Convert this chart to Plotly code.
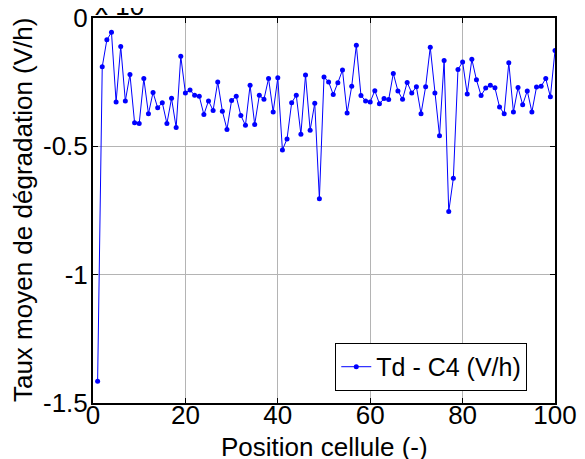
import plotly.graph_objects as go

position = list(range(1, 101))
taux = [
    -1.415, -0.190, -0.085, -0.056, -0.327, -0.111, -0.323, -0.220, -0.408, -0.411,
    -0.236, -0.373, -0.290, -0.350, -0.330, -0.411, -0.313, -0.427, -0.149, -0.292,
    -0.281, -0.301, -0.305, -0.376, -0.323, -0.360, -0.249, -0.363, -0.434, -0.321,
    -0.305, -0.380, -0.418, -0.262, -0.415, -0.301, -0.317, -0.236, -0.366, -0.233,
    -0.514, -0.471, -0.330, -0.301, -0.453, -0.222, -0.437, -0.332, -0.704, -0.230,
    -0.249, -0.298, -0.252, -0.203, -0.370, -0.266, -0.106, -0.302, -0.323, -0.327,
    -0.283, -0.334, -0.314, -0.318, -0.216, -0.284, -0.317, -0.251, -0.292, -0.268,
    -0.373, -0.268, -0.114, -0.292, -0.459, -0.166, -0.754, -0.624, -0.201, -0.171,
    -0.296, -0.161, -0.241, -0.302, -0.273, -0.262, -0.272, -0.347, -0.373, -0.174,
    -0.366, -0.271, -0.338, -0.284, -0.366, -0.269, -0.266, -0.236, -0.307, -0.127,
]
x_ticks = [0, 20, 40, 60, 80, 100]
y_ticks = [0, -0.5, -1, -1.5]
y_ticklabels = ["0", "-0.5", "-1", "-1.5"]

FONT = "Arial, 'Liberation Sans', sans-serif"
FS = 26

fig = go.Figure()
fig.add_trace(go.Scatter(
    x=position, y=taux, mode="lines+markers", name="Td - C4 (V/h)",
    line=dict(color="#0000ff", width=1),
    marker=dict(color="#0000ff", size=5),
))

fig.update_layout(
    width=585, height=459,
    margin=dict(l=85, r=38, t=10, b=64),
    paper_bgcolor="white", plot_bgcolor="white",
    font=dict(family=FONT, size=FS, color="black"),
    showlegend=True,
    legend=dict(
        x=0.94, y=0.0936, xanchor="right", yanchor="middle",
        bgcolor="white", bordercolor="black", borderwidth=1,
        font=dict(family=FONT, size=25, color="black"),
        itemwidth=30, tracegroupgap=0,
    ),
    xaxis=dict(
        range=[0, 100], tickvals=x_ticks, ticktext=[str(v) for v in x_ticks],
        showgrid=True, gridcolor="#b4b4b4", gridwidth=1,
        showline=True, linecolor="black", linewidth=2, mirror="ticks",
        ticks="inside", ticklen=5, tickcolor="black", zeroline=False,
        automargin=False, ticklabelstandoff=-12, ticklabeloverflow="allow",
    ),
    yaxis=dict(
        range=[-1.5, 0], tickvals=y_ticks, ticktext=y_ticklabels,
        showgrid=True, gridcolor="#b4b4b4", gridwidth=1,
        showline=True, linecolor="black", linewidth=2, mirror="ticks",
        ticks="inside", ticklen=5, tickcolor="black", zeroline=False,
        automargin=False, ticklabelstandoff=-2, ticklabeloverflow="allow",
    ),
    annotations=[
        dict(text="Taux moyen de dégradation (V/h)", textangle=-90,
             xref="paper", yref="paper", x=-0.1525, y=0.5,
             xanchor="center", yanchor="middle", showarrow=False,
             font=dict(family=FONT, size=FS)),
        dict(text="Position cellule (-)",
             xref="paper", yref="paper", x=0.5, y=-0.113,
             xanchor="center", yanchor="middle", showarrow=False,
             font=dict(family=FONT, size=FS)),
        dict(text="x 10", xref="paper", yref="paper", x=0, y=1,
             xanchor="left", yanchor="bottom", yshift=-5, showarrow=False,
             font=dict(family=FONT, size=FS)),
    ],
)

fig.write_html("out.html")
